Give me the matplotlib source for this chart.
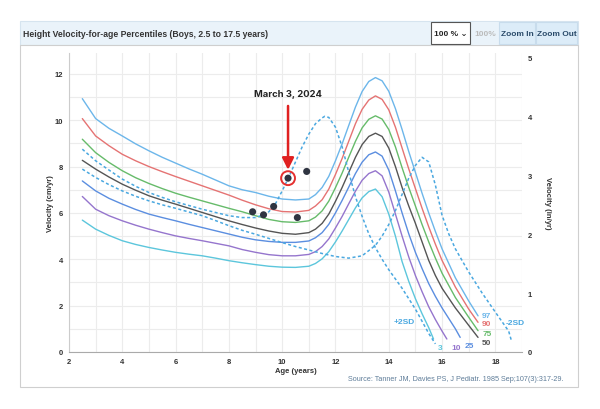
import matplotlib
matplotlib.use("Agg")
import matplotlib.pyplot as plt
from matplotlib.patches import Rectangle

plt.rcParams['font.family'] = ['Liberation Sans', 'DejaVu Sans']

# --- data (cm/yr) ---
head_ages = [2.5, 3, 3.5, 4, 4.5, 5, 5.5, 6, 6.5, 7, 7.5, 8, 8.5, 9, 9.5, 10, 10.5,
             11, 11.25, 11.5, 11.75, 12, 12.25, 12.5, 12.75, 13, 13.25, 13.5]
tail_long = [13.75, 14, 14.25, 14.5, 14.75, 15, 15.25, 15.5, 15.75, 16, 16.5, 17, 17.35]
tail_25 = [13.75, 14, 14.25, 14.5, 14.75, 15, 15.25, 15.5, 15.75, 16, 16.25, 16.5, 16.68]
tail_10 = [13.75, 14, 14.25, 14.5, 14.75, 15, 15.25, 15.5, 15.75, 16, 16.18]
tail_3 = [13.75, 14, 14.25, 14.5, 14.75, 15, 15.25, 15.5, 15.68]

p97 = [10.93, 10.07, 9.65, 9.32, 8.98, 8.68, 8.4, 8.15, 7.9, 7.67, 7.42, 7.17, 7.0, 6.88, 6.72, 6.6, 6.56,
       6.6, 6.79, 7.1, 7.58, 8.25, 8.98, 9.78, 10.57, 11.24, 11.67, 11.84,
       11.7, 11.25, 10.5, 9.6, 8.65, 7.75, 6.85, 6.0, 5.2, 4.45, 3.2, 2.2, 1.56]
p90 = [10.07, 9.32, 8.9, 8.53, 8.25, 8.0, 7.78, 7.57, 7.37, 7.17, 6.97, 6.77, 6.55, 6.35, 6.18, 6.06, 6.04,
       6.11, 6.3, 6.57, 7.03, 7.66, 8.35, 9.1, 9.85, 10.47, 10.87, 11.05,
       10.9, 10.45, 9.7, 8.8, 7.9, 7.05, 6.2, 5.4, 4.65, 3.95, 2.8, 1.85, 1.28]
p75 = [9.18, 8.6, 8.18, 7.82, 7.52, 7.27, 7.05, 6.85, 6.68, 6.52, 6.36, 6.2, 6.05, 5.88, 5.72, 5.62, 5.59,
       5.66, 5.82, 6.09, 6.51, 7.09, 7.72, 8.41, 9.09, 9.67, 10.04, 10.19,
       10.05, 9.6, 8.85, 7.95, 7.1, 6.3, 5.5, 4.75, 4.05, 3.4, 2.35, 1.5, 0.92]
p50 = [8.27, 7.89, 7.55, 7.24, 6.98, 6.74, 6.55, 6.38, 6.2, 6.02, 5.84, 5.66, 5.5, 5.35, 5.22, 5.12, 5.08,
       5.15, 5.3, 5.55, 5.95, 6.5, 7.1, 7.75, 8.4, 8.95, 9.3, 9.44,
       9.3, 8.8, 8.0, 7.1, 6.3, 5.55, 4.75, 3.95, 3.3, 2.75, 1.9, 1.15, 0.63]
p25 = [7.38, 6.95, 6.63, 6.38, 6.15, 5.95, 5.8, 5.66, 5.51, 5.37, 5.23, 5.09, 4.95, 4.84, 4.77, 4.73, 4.73,
       4.79, 4.93, 5.15, 5.51, 6.0, 6.54, 7.12, 7.7, 8.19, 8.51, 8.63,
       8.45, 7.85, 6.95, 6.0, 5.1, 4.3, 3.6, 2.95, 2.4, 1.9, 1.45, 1.0, 0.63]
p10 = [6.71, 6.16, 5.88, 5.66, 5.47, 5.3, 5.15, 5.01, 4.9, 4.8, 4.69, 4.58, 4.42, 4.3, 4.2, 4.15, 4.15,
       4.21, 4.33, 4.55, 4.88, 5.35, 5.85, 6.4, 6.94, 7.41, 7.7, 7.82,
       7.6, 6.9, 5.95, 5.0, 4.1, 3.3, 2.6, 1.95, 1.4, 0.9, 0.56]
p3 = [5.69, 5.3, 5.03, 4.8, 4.64, 4.51, 4.4, 4.3, 4.22, 4.15, 4.05, 3.94, 3.85, 3.77, 3.7, 3.66, 3.65,
      3.7, 3.82, 4.02, 4.33, 4.75, 5.22, 5.72, 6.22, 6.65, 6.92, 7.03,
      6.7, 5.95, 5.0, 3.9, 3.05, 2.3, 1.65, 1.05, 0.56]

sd_plus_ages = [2.5, 3, 3.5, 4, 4.5, 5, 5.5, 6, 6.5, 7, 7.5, 8, 8.5, 9, 9.25, 9.5, 9.75, 10, 10.25, 10.5,
                10.75, 11, 11.25, 11.5, 11.6, 11.75, 12, 12.25, 12.5, 12.75, 13, 13.25, 13.5, 13.75, 14,
                14.5, 15, 15.5, 15.75]
sd_plus = [8.75, 8.25, 7.85, 7.46, 7.15, 6.88, 6.67, 6.48, 6.32, 6.16, 6.02, 5.88, 5.8, 5.8, 5.9, 6.05, 6.4,
           6.95, 7.55, 8.2, 8.85, 9.4, 9.85, 10.1, 10.17, 10.12, 9.7, 8.85, 7.75, 6.7, 5.85, 5.1, 4.5, 4.0,
           3.55, 2.75, 1.85, 0.8, 0.35]
sd_minus_ages = [2.5, 3, 3.5, 4, 4.5, 5, 5.5, 6, 6.5, 7, 7.5, 8, 8.5, 9, 9.5, 10, 10.5, 11, 11.5, 12,
                 12.5, 13, 13.5, 13.75, 14, 14.25, 14.5, 14.75, 15, 15.25, 15.5, 15.75, 16, 16.25, 16.5,
                 17, 17.5, 18, 18.5, 18.6]
sd_minus = [7.89, 7.53, 7.22, 6.95, 6.72, 6.52, 6.35, 6.2, 6.04, 5.88, 5.67, 5.45, 5.25, 5.08, 4.9, 4.72,
            4.55, 4.4, 4.25, 4.12, 4.05, 4.15, 4.6, 5.0, 5.5, 6.1, 6.8, 7.5, 8.05, 8.4, 8.2, 7.2, 5.9,
            5.1, 4.45, 3.45, 2.55, 1.72, 0.9, 0.5]

child_age = [8.89, 9.3, 9.68, 10.22, 10.57, 10.92]
child_vel = [6.05, 5.92, 6.28, 7.5, 5.8, 7.79]
marked = 3
marked_label = "March 3, 2024"

curves = [
    ("97", head_ages + tail_long, p97, "#6cb6ea"),
    ("90", head_ages + tail_long, p90, "#e57373"),
    ("75", head_ages + tail_long, p75, "#66bb6a"),
    ("50", head_ages + tail_long, p50, "#555555"),
    ("25", head_ages + tail_25, p25, "#5b8ee0"),
    ("10", head_ages + tail_10, p10, "#9575cd"),
    ("3", head_ages + tail_3, p3, "#5cc6dc"),
]
sd_color = "#4aa8e0"

fig = plt.figure(figsize=(6, 4.1), dpi=100)

# page furniture: title bar, buttons, panel border (behind the axes)
def box(x0, y0, w, h, fc, ec):
    fig.patches.append(Rectangle((x0/600, 1-(y0+h)/410), w/600, h/410, transform=fig.transFigure,
                                 facecolor=fc, edgecolor=ec, lw=0.8, zorder=-5))

box(20, 22, 558, 24, "#eaf3fa", "#d6e4ef")
box(20, 46, 558, 342, "white", "#cfcfcf")
fig.text(23/600, 1-34.5/410, "Height Velocity-for-age Percentiles (Boys, 2.5 to 17.5 years)",
         fontsize=6.2, fontweight="bold", color="#333333", va="center")
buttons = [("100 % \u2304", 431, 470, "#222222", "white", "#555555"),
           ("100%", 473, 497, "#bbbbbb", "#eaf3fa", "#eaf3fa"),
           ("Zoom In", 499, 535, "#2a4b6a", "#dcecf8", "#c8dcec"),
           ("Zoom Out", 536, 577, "#2a4b6a", "#dcecf8", "#c8dcec")]
for txt, x0, x1, tc, fc, ec in buttons:
    box(x0, 23, x1-x0, 22, fc, ec)
    fig.text((x0+x1)/2/600, 1-34/410, txt, fontsize=6, fontweight="bold", color=tc,
             ha="center", va="center")

ax = fig.add_axes([69/600, 1-353/410, 453/600, 299/410])
ax.set_xlim(2, 19)
ax.set_ylim(0, 12.9)

for name, xs, ys, col in curves:
    ax.plot(xs, ys, color=col, lw=1.0, solid_capstyle="round", zorder=3)
ax.plot(sd_plus_ages, sd_plus, color=sd_color, lw=1.1, ls=(0, (2, 1.6)), zorder=3)
ax.plot(sd_minus_ages, sd_minus, color=sd_color, lw=1.1, ls=(0, (2, 1.6)), zorder=3)

# end labels
label_off = {"97": (3, 0), "90": (3, -1), "75": (3, -2), "50": (3, -4),
             "25": (3, -6), "10": (3, -6), "3": (3, -6)}
for name, xs, ys, col in curves:
    ax.annotate(name, (xs[-1], ys[-1]), xytext=label_off[name], textcoords="offset points",
                fontsize=6, fontweight="bold", color=col, ha="left", va="center",
                annotation_clip=False)
ax.annotate("+2SD", (sd_plus_ages[-1], sd_plus[-1]), xytext=(-30, 16), textcoords="offset points",
            fontsize=6, fontweight="bold", color=sd_color, ha="left", va="center")
ax.annotate("-2SD", (sd_minus_ages[-1], sd_minus[-1]), xytext=(-4, 13), textcoords="offset points",
            fontsize=6, fontweight="bold", color=sd_color, ha="left", va="center",
            annotation_clip=False)

# child's measurements
ax.scatter(child_age, child_vel, s=26, color="#2f3441", zorder=5, edgecolors="none")
ax.scatter([child_age[marked]], [child_vel[marked]], s=100, facecolors="none",
           edgecolors="#e53030", linewidths=1.4, zorder=6)
ax.annotate("", (child_age[marked], child_vel[marked]), xytext=(0, 52), textcoords="offset points",
            arrowprops=dict(arrowstyle="-|>,head_width=0.35,head_length=0.7", color="#e02020", lw=1.8,
                            shrinkA=0, shrinkB=6))
ax.annotate(marked_label, (child_age[marked], child_vel[marked]), xytext=(0, 58),
            textcoords="offset points", ha="center", va="bottom", fontsize=6.8, fontweight="bold",
            color="#222222", family=["Inter", "DejaVu Sans"])

ax.set_xticks(range(2, 19, 2))
ax.set_xticks(range(3, 20, 2), minor=True)
ax.set_yticks(range(0, 13, 2))
ax.set_yticks(range(1, 13, 2), minor=True)
ax.grid(True, which="both", color="#ececec", lw=0.8, zorder=0)
ax.tick_params(which="both", length=0, labelsize=5.5, colors="#333333", pad=4)
for lab in ax.get_xticklabels() + ax.get_yticklabels():
    lab.set_fontweight("bold")
for s in ["top", "right"]:
    ax.spines[s].set_visible(False)
ax.spines["left"].set_color("#cccccc")
ax.spines["bottom"].set_color("#aaaaaa")
ax.set_xlabel("Age (years)", fontsize=5.5, fontweight="bold", color="#333333", labelpad=2)
ax.set_ylabel("Velocity (cm/yr)", fontsize=5.5, fontweight="bold", color="#333333", labelpad=1)

ax2 = ax.twinx()
ax2.set_ylim(0, 12.9 / 2.54)
ax2.set_yticks(range(0, 6))
ax2.tick_params(length=0, labelsize=5.5, colors="#333333", pad=4)
for lab in ax2.get_yticklabels():
    lab.set_fontweight("bold")
for s in ax2.spines.values():
    s.set_visible(False)
ax2.set_ylabel("Velocity (in/yr)", fontsize=5.5, fontweight="bold", color="#333333",
               rotation=270, labelpad=14)

fig.text(564/600, 1-380/410, "Source: Tanner JM, Davies PS, J Pediatr. 1985 Sep;107(3):317-29.",
         fontsize=5.2, color="#5f7d99", ha="right", va="center")

fig.savefig("out.png", dpi=100, facecolor="white")
